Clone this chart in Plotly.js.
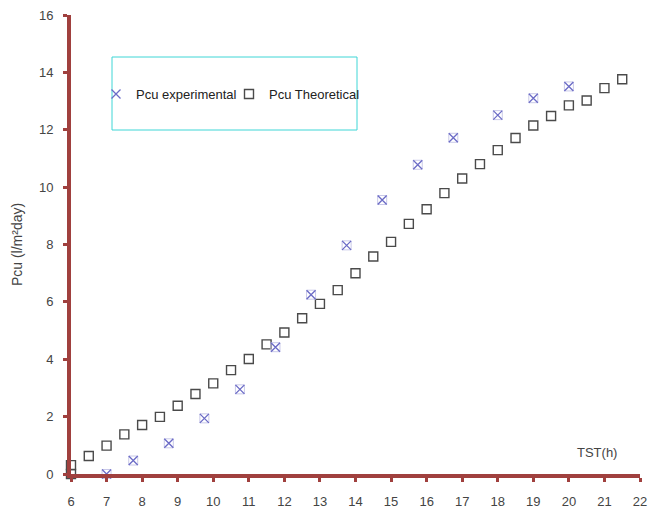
<!DOCTYPE html>
<html>
<head>
<meta charset="utf-8">
<script src="https://cdn.plot.ly/plotly-3.0.1.min.js"></script>
<style>
  html, body { margin: 0; padding: 0; background: #ffffff; }
  #chart { width: 655px; height: 508px; }
</style>
</head>
<body>
<div id="chart"></div>
<script>
// Experimental yield
const expHours = [7, 7.75, 8.75, 9.75, 10.75, 11.75, 12.75, 13.75, 14.75, 15.75, 16.75, 18, 19, 20];
const expPcu   = [0, 0.47, 1.07, 1.94, 2.95, 4.42, 6.25, 7.97, 9.55, 10.78, 11.72, 12.51, 13.1, 13.51];

// Theoretical yield
const theoHours = [6, 6, 6.5, 7, 7.5, 8, 8.5, 9, 9.5, 10, 10.5, 11, 11.5, 12, 12.5, 13,
                   13.5, 14, 14.5, 15, 15.5, 16, 16.5, 17, 17.5, 18, 18.5, 19, 19.5, 20,
                   20.5, 21, 21.5];
const theoPcu   = [0, 0.31, 0.63, 0.99, 1.38, 1.71, 1.99, 2.38, 2.79, 3.16, 3.62, 4.01, 4.52, 4.93, 5.43, 5.93,
                   6.41, 7.0, 7.58, 8.09, 8.72, 9.23, 9.79, 10.3, 10.8, 11.29, 11.71, 12.15, 12.48, 12.85,
                   13.02, 13.45, 13.76];

const xTicks = [6, 7, 8, 9, 10, 11, 12, 13, 14, 15, 16, 17, 18, 19, 20, 21, 22];
const yTicks = [0, 2, 4, 6, 8, 10, 12, 14, 16];

const axisRed = '#a0403e';
const textGray = '#444444';
const font = 'Liberation Sans, Arial, sans-serif';

const traces = [
  {
    x: theoHours, y: theoPcu,
    type: 'scatter', mode: 'markers',
    name: 'Pcu Theoretical',
    cliponaxis: false,
    marker: { symbol: 'square-open', size: 9, color: '#4a4a4a', line: { width: 1.4, color: '#4a4a4a' } }
  },
  {
    // light frame drawn behind each experimental cross
    x: expHours, y: expPcu,
    type: 'scatter', mode: 'markers',
    showlegend: false, hoverinfo: 'skip',
    cliponaxis: false,
    marker: { symbol: 'square-open', size: 9, color: '#c9c9e9', line: { width: 1, color: '#c9c9e9' } }
  },
  {
    x: expHours, y: expPcu,
    type: 'scatter', mode: 'markers',
    name: 'Pcu experimental',
    cliponaxis: false,
    marker: { symbol: 'x-thin-open', size: 9, color: '#6b6bc6', line: { width: 1.3, color: '#6b6bc6' } }
  }
];

// plot area spans x: 71..640 px, y: 15..474 px
const W = 655, H = 508, L = 71, R = 15, T = 15, B = 34;
const pw = W - L - R, ph = H - T - B;
const px = v => (v - L) / pw;
const py = v => (H - B - v) / ph;

const layout = {
  width: W, height: H,
  margin: { l: L, r: R, t: T, b: B, pad: 0 },
  paper_bgcolor: '#ffffff',
  plot_bgcolor: '#ffffff',
  font: { family: font, size: 13, color: textGray },
  showlegend: true,
  legend: {
    orientation: 'h',
    x: px(96), y: py(94), xanchor: 'left', yanchor: 'middle',
    bgcolor: 'rgba(0,0,0,0)', borderwidth: 0,
    font: { family: font, size: 13, color: '#222222' },
    traceorder: 'reversed',
    itemwidth: 30,
    entrywidth: 88,
    entrywidthmode: 'pixels'
  },
  xaxis: {
    range: [6, 22],
    tickvals: xTicks,
    ticktext: xTicks.map(String),
    color: textGray,
    showgrid: false, zeroline: false,
    showline: true, linecolor: axisRed, linewidth: 4,
    ticks: 'outside', ticklen: 4, tickwidth: 3, tickcolor: axisRed,
    ticklabelstandoff: 8,
    tickfont: { family: font, size: 13, color: textGray },
    fixedrange: true
  },
  yaxis: {
    range: [0, 16],
    tickvals: yTicks,
    ticktext: yTicks.map(String),
    color: textGray,
    showgrid: false, zeroline: false,
    showline: true, linecolor: axisRed, linewidth: 4,
    ticks: 'outside', ticklen: 4, tickwidth: 3, tickcolor: axisRed,
    ticklabelstandoff: 7,
    tickfont: { family: font, size: 13, color: textGray },
    title: { text: 'Pcu (l/m²day)', font: { family: font, size: 14, color: textGray }, standoff: 14 },
    fixedrange: true
  },
  shapes: [
    {
      type: 'rect', xref: 'paper', yref: 'paper',
      x0: px(112), x1: px(357), y0: py(130), y1: py(57),
      line: { color: '#3fd6d6', width: 1 },
      fillcolor: 'rgba(0,0,0,0)',
      layer: 'below'
    }
  ],
  annotations: [
    {
      text: 'TST(h)', xref: 'paper', yref: 'paper',
      x: px(597), y: py(452), xanchor: 'center', yanchor: 'middle',
      showarrow: false,
      font: { family: font, size: 13, color: textGray }
    }
  ]
};

Plotly.newPlot('chart', traces, layout, { displayModeBar: false, staticPlot: true });
</script>
</body>
</html>
